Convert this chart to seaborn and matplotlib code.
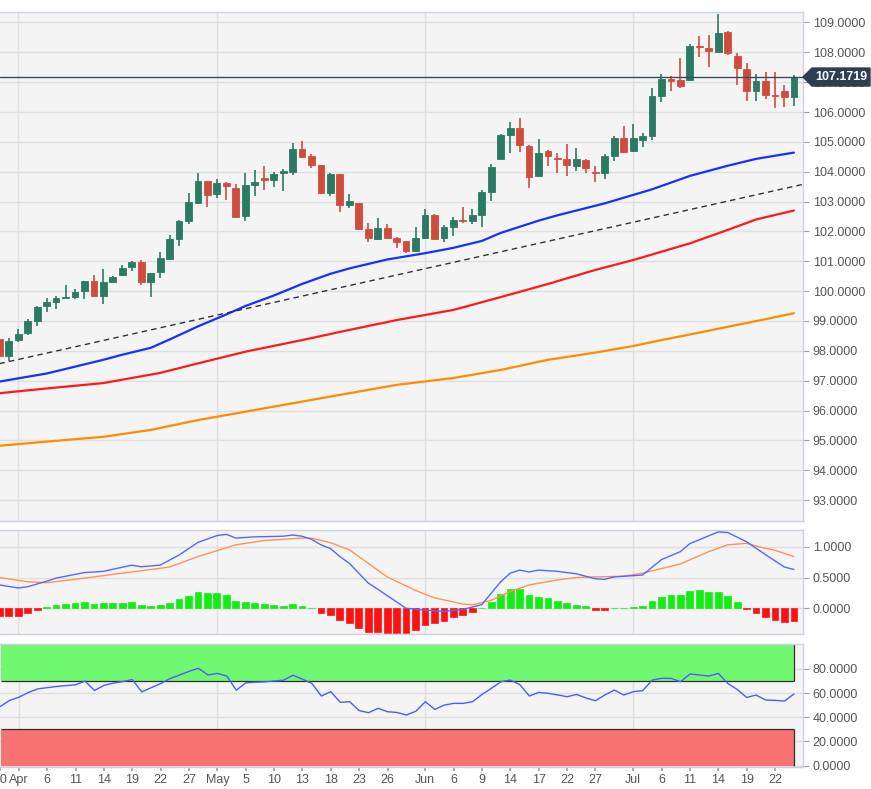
import numpy as np
import pandas as pd
import matplotlib
matplotlib.use("Agg")
import matplotlib.pyplot as plt
import seaborn as sns
from matplotlib.patches import Polygon
import matplotlib.transforms as mtransforms

sns.set_theme(style="white")
plt.rcParams['font.family'] = ['Liberation Sans', 'DejaVu Sans']

# ---------------- data ----------------
opens = [98.40, 97.82, 98.36, 98.60, 99.00, 99.49, 99.65, 99.77, 99.82, 100.00,
         100.33, 99.85, 100.31, 100.53, 100.80, 100.98, 100.32, 100.63, 101.08, 101.76,
         102.36, 102.96, 103.68, 103.25, 103.61, 103.47, 102.53, 103.56, 103.78, 103.72,
         103.97, 104.00, 104.75, 104.54, 104.22, 103.30, 103.91, 102.89, 102.95, 102.08,
         101.74, 102.13, 101.79, 101.69, 101.35, 101.77, 102.56, 101.77, 102.14, 102.38,
         102.36, 102.55, 103.33, 104.44, 105.23, 105.48, 104.86, 103.84, 104.68, 104.47,
         104.43, 104.20, 104.39, 104.00, 103.97, 104.54, 105.12, 104.71, 105.06, 105.20,
         106.52, 107.10, 107.07, 107.07, 108.21, 108.16, 108.02, 108.68, 107.86, 107.43,
         106.72, 107.05, 106.56, 106.72, 106.49]
highs = [98.48, 98.42, 98.73, 99.07, 99.51, 99.78, 99.84, 100.19, 100.07, 100.35,
         100.54, 100.73, 100.51, 100.89, 101.02, 101.05, 100.62, 101.30, 101.87, 102.38,
         103.28, 103.96, 103.70, 103.77, 103.67, 103.58, 103.96, 104.06, 104.18, 104.00,
         104.08, 104.95, 105.03, 104.59, 104.24, 103.95, 103.92, 103.24, 102.95, 102.29,
         102.44, 102.24, 101.82, 101.69, 102.16, 102.74, 102.58, 102.22, 102.47, 102.83,
         102.76, 103.39, 104.26, 105.26, 105.66, 105.79, 104.90, 105.09, 104.73, 104.64,
         104.93, 104.78, 104.42, 104.20, 104.60, 105.18, 105.53, 105.60, 105.31, 106.80,
         107.27, 107.22, 107.80, 108.28, 108.56, 108.58, 109.29, 108.70, 107.97, 107.63,
         107.28, 107.35, 107.35, 106.91, 107.24]
lows = [97.70, 97.66, 98.31, 98.53, 98.84, 99.31, 99.41, 99.76, 99.74, 99.74,
        99.80, 99.57, 100.30, 100.51, 100.67, 100.20, 99.81, 100.45, 101.05, 101.51,
        102.25, 102.93, 102.83, 103.11, 103.05, 102.47, 102.34, 103.19, 103.39, 103.50,
        103.37, 103.89, 104.45, 104.12, 103.25, 103.19, 102.64, 102.77, 102.05, 101.66,
        101.71, 101.74, 101.44, 101.29, 101.32, 101.75, 101.71, 101.64, 101.86, 102.27,
        102.25, 102.14, 103.03, 104.42, 104.64, 104.66, 103.45, 103.84, 104.19, 103.95,
        103.86, 104.04, 103.95, 103.67, 103.76, 104.37, 104.62, 104.67, 104.82, 105.06,
        106.35, 106.72, 106.80, 107.05, 107.83, 107.50, 108.02, 107.91, 106.91, 106.38,
        106.38, 106.43, 106.13, 106.18, 106.20]
closes = [97.84, 98.33, 98.57, 98.99, 99.48, 99.65, 99.76, 99.82, 99.97, 100.33,
          99.84, 100.31, 100.47, 100.79, 100.98, 100.30, 100.62, 101.12, 101.75, 102.34,
          102.98, 103.68, 103.23, 103.62, 103.51, 102.49, 103.56, 103.65, 103.73, 103.92,
          104.01, 104.75, 104.48, 104.23, 103.30, 103.92, 102.89, 103.02, 102.08, 101.77,
          102.13, 101.77, 101.64, 101.36, 101.77, 102.54, 101.75, 102.16, 102.38, 102.36,
          102.55, 103.31, 104.17, 105.24, 105.48, 104.90, 103.83, 104.64, 104.51, 104.43,
          104.23, 104.42, 104.12, 103.97, 104.51, 105.12, 104.67, 105.12, 105.18, 106.52,
          107.10, 107.05, 106.88, 108.22, 108.17, 108.06, 108.66, 107.97, 107.46, 106.72,
          107.05, 106.57, 106.54, 106.49, 107.1719]

# moving averages, read at these bar indices
sma50_idx = [0, 5, 8, 11, 13, 16, 18, 21, 24, 26, 29, 32, 35, 37, 41, 45, 48, 51, 53,
             57, 59, 64, 69, 73, 77, 80, 84]
sma50 = [96.97, 97.24, 97.47, 97.70, 97.87, 98.10, 98.38, 98.82, 99.22, 99.50, 99.85,
         100.24, 100.58, 100.76, 101.06, 101.27, 101.45, 101.68, 101.95, 102.36, 102.54,
         102.94, 103.41, 103.86, 104.20, 104.43, 104.64]
sma100_idx = [0, 5, 11, 17, 21, 26, 32, 37, 42, 48, 53, 58, 63, 67, 73, 77, 80, 84]
sma100 = [96.58, 96.74, 96.92, 97.26, 97.58, 97.97, 98.36, 98.70, 99.03, 99.37, 99.80,
          100.24, 100.71, 101.04, 101.60, 102.05, 102.40, 102.70]
sma200_idx = [0, 5, 11, 16, 21, 26, 32, 37, 42, 48, 53, 58, 63, 67, 70, 74, 78, 81, 84]
sma200 = [94.82, 94.96, 95.12, 95.35, 95.68, 95.96, 96.30, 96.58, 96.86, 97.09, 97.36,
          97.70, 97.94, 98.16, 98.36, 98.61, 98.87, 99.06, 99.26]

trend_idx = [0, 85]
trend_val = [97.57, 103.58]

# MACD
macd_idx = [0, 2, 3, 5, 6, 9, 11, 14, 15, 17, 19, 21, 23, 24, 25, 27, 30, 31, 32, 33,
            34, 35, 36, 37, 39, 40, 43, 45, 47, 49, 51, 53, 54, 55, 56, 57, 59, 61, 63, 64,
            65, 68, 70, 72, 73, 76, 77, 79, 81, 83, 84]
macd_line = [0.38, 0.33, 0.35, 0.44, 0.49, 0.58, 0.60, 0.70, 0.675, 0.70, 0.865, 1.07, 1.18,
             1.20, 1.14, 1.16, 1.17, 1.19, 1.17, 1.12, 1.03, 0.97, 0.84, 0.73, 0.41, 0.31,
             0.0, -0.03, -0.05, -0.02, 0.06, 0.43, 0.57, 0.62, 0.59, 0.62, 0.60, 0.56, 0.48,
             0.47, 0.51, 0.54, 0.79, 0.92, 1.05, 1.24, 1.23, 1.08, 0.87, 0.67, 0.63]
sig_idx = [0, 3, 5, 9, 14, 18, 21, 25, 28, 32, 33, 35, 37, 39, 41, 44, 46, 49, 50, 52,
           54, 56, 59, 61, 63, 66, 68, 72, 75, 77, 79, 80, 82, 84]
sig_line = [0.50, 0.43, 0.415, 0.49, 0.59, 0.67, 0.84, 1.03, 1.10, 1.14, 1.14, 1.065, 0.95,
            0.73, 0.51, 0.29, 0.17, 0.07, 0.055, 0.13, 0.27, 0.38, 0.46, 0.50, 0.51, 0.52,
            0.57, 0.72, 0.92, 1.03, 1.055, 1.01, 0.94, 0.84]
macd_hist = [-0.124, -0.124, -0.124, -0.081, -0.027, 0.016, 0.054, 0.070, 0.081, 0.103,
             0.070, 0.081, 0.081, 0.092, 0.108, 0.054, 0.038, 0.054, 0.092, 0.146,
             0.200, 0.265, 0.254, 0.254, 0.222, 0.119, 0.103, 0.092, 0.065, 0.054,
             0.038, 0.065, 0.043, 0.011, -0.081, -0.108, -0.189, -0.243, -0.325, -0.379,
             -0.390, -0.395, -0.406, -0.406, -0.352, -0.271, -0.243, -0.200, -0.146, -0.108,
             -0.065, 0.011, 0.108, 0.233, 0.314, 0.308, 0.216, 0.189, 0.162, 0.124,
             0.085, 0.060, 0.040, -0.025, -0.025, 0.011, 0.011, 0.022, 0.032, 0.114,
             0.189, 0.222, 0.216, 0.281, 0.292, 0.265, 0.265, 0.200, 0.108, -0.005,
             -0.070, -0.146, -0.189, -0.227, -0.200]

# RSI
rsi = [48.8, 53.9, 56.6, 60.5, 63.5, 64.5, 65.5, 66.2, 66.9, 69.9,
       62.2, 66.4, 68.3, 69.5, 71.2, 61.0, 64.5, 67.9, 72.0, 75.0,
       78.0, 80.5, 75.0, 76.3, 74.1, 62.4, 68.5, 69.0, 69.3, 70.0,
       70.7, 74.8, 71.5, 68.0, 57.6, 61.2, 52.4, 52.9, 45.5, 43.8,
       47.4, 44.6, 44.0, 41.9, 45.0, 52.9, 46.5, 50.1, 51.5, 51.5,
       52.9, 58.9, 64.0, 69.4, 70.8, 67.0, 57.6, 60.6, 59.8, 58.5,
       57.0, 58.9, 56.0, 53.7, 58.5, 62.5, 58.4, 61.2, 62.0, 70.8,
       72.2, 72.2, 69.4, 75.8, 75.0, 74.1, 76.3, 68.0, 63.0, 56.4,
       58.4, 54.3, 54.0, 53.4, 59.3]
rsi_upper, rsi_lower = 70, 30

# x axis labels
tick_idx = [0, 2, 5, 8, 11, 14, 17, 20, 23, 26, 29, 32, 35, 38, 41, 45, 48, 51, 54,
            57, 60, 63, 67, 70, 73, 76, 79, 82]
tick_lbl = ["30", "Apr", "6", "11", "14", "19", "22", "27", "May", "5", "10", "13", "18",
            "23", "26", "Jun", "6", "9", "14", "17", "22", "27", "Jul", "6", "11", "14",
            "19", "22"]
month_idx = [2, 23, 45, 67]

# ---------------- figure ----------------
W, H = 871, 789
fig = plt.figure(figsize=(W / 100, H / 100), dpi=100)
fig.patch.set_facecolor("white")


def rect(l, t, r, b):
    return [l / W, 1 - b / H, (r - l) / W, (b - t) / H]


ax1 = fig.add_axes(rect(0, 12, 803, 521))
ax2 = fig.add_axes(rect(0, 530, 803, 634))
ax3 = fig.add_axes(rect(0, 644, 803, 767))

BG = "#f4f4f4"
GRID = "#dfdfdf"
SPINE = "#cbd0e2"
LBL = "#555555"
XLIM = (0.07, 84.96)
FS = 9

for ax in (ax1, ax2, ax3):
    ax.set_facecolor(BG)
    for s in ax.spines.values():
        s.set_color(SPINE)
        s.set_linewidth(1.0)
    ax.spines["left"].set_visible(False)
    ax.yaxis.tick_right()
    ax.tick_params(axis="y", which="both", length=4, width=0.8, color="#9aa0b0",
                   labelcolor=LBL, labelsize=FS, pad=3, left=False, right=True)
    ax.set_xlim(*XLIM)
    for m in month_idx:
        ax.axvline(m, color=GRID, lw=1.0, zorder=0)
    ax.set_xticks([])

# ---- main candle panel ----
ax1.set_ylim(92.30, 109.35)
yt = list(range(93, 110))
ax1.set_yticks(yt)
ax1.set_yticklabels([f"{v:.4f}" for v in yt])
for v in yt:
    ax1.axhline(v, color=GRID, lw=1.0, zorder=0)

idx = np.arange(len(closes))
o = np.array(opens); c = np.array(closes); h = np.array(highs); l = np.array(lows)
up = c >= o
UPC, DNC = "#2b7a64", "#d04c3d"
cols = np.where(up, UPC, DNC)
ax1.vlines(idx, l, h, colors=cols, lw=1.2, zorder=3)
body_b = np.minimum(o, c)
body_h = np.maximum(np.abs(c - o), 0.03)
ax1.bar(idx, body_h, bottom=body_b, width=0.72, color=cols, edgecolor=cols,
        linewidth=0.6, zorder=4)

sns.lineplot(x=sma200_idx, y=sma200, ax=ax1, color="#ff8c00", lw=1.6, zorder=2)
sns.lineplot(x=sma100_idx, y=sma100, ax=ax1, color="#ff1a1a", lw=1.6, zorder=2)
sns.lineplot(x=sma50_idx, y=sma50, ax=ax1, color="#1432ff", lw=1.6, zorder=2)
sns.lineplot(x=trend_idx, y=trend_val, ax=ax1, color="#333333", lw=1.0,
             linestyle=(0, (4, 3)), zorder=2)

last = closes[-1]
ax1.axhline(last, color="#3b4a5e", lw=1.0, zorder=5)
trans = mtransforms.blended_transform_factory(ax1.transAxes, ax1.transData)
hh = 9.0 / 29.85
x0, x1, x2 = 1.0, 1.0 + 9 / 803, 1.0 + 67 / 803
poly = Polygon([[x0, last], [x1, last + hh], [x2, last + hh], [x2, last - hh],
                [x1, last - hh]], closed=True, transform=trans, facecolor="#2d3d52",
               edgecolor="#2d3d52", clip_on=False, zorder=10)
ax1.add_patch(poly)
ax1.text((x1 + x2) / 2 + 0.001, last, f"{last:.4f}", transform=trans, color="white",
         fontsize=FS, fontweight="bold", ha="center", va="center", clip_on=False, zorder=11)
ax1.set_xlabel(""); ax1.set_ylabel("")

# ---- MACD panel ----
ax2.set_ylim(-0.417, 1.271)
mt = [0.0, 0.5, 1.0]
ax2.set_yticks(mt)
ax2.set_yticklabels([f"{v:.4f}" for v in mt])
for v in mt:
    ax2.axhline(v, color=GRID, lw=1.0, zorder=0)
hist = np.array(macd_hist)
hcols = np.where(hist >= 0, "#11ee11", "#ff1111")
ax2.bar(idx, hist, width=0.72, color=hcols, edgecolor=hcols, linewidth=0.5, zorder=2)
sns.lineplot(x=sig_idx, y=sig_line, ax=ax2, color="#ff9350", lw=1.0, zorder=3)
sns.lineplot(x=macd_idx, y=macd_line, ax=ax2, color="#5468ff", lw=1.0, zorder=4)
ax2.set_xlabel(""); ax2.set_ylabel("")

# ---- RSI panel ----
ax3.set_ylim(-1.1, 100.6)
rt = [0, 20, 40, 60, 80]
ax3.set_yticks(rt)
ax3.set_yticklabels([f"{v:.4f}" for v in rt])
for v in rt:
    ax3.axhline(v, color=GRID, lw=1.0, zorder=0)
band_x = [XLIM[0], idx[-1]]
ax3.fill_between(band_x, rsi_upper, 101, color="#70f870", zorder=1, linewidth=0)
ax3.fill_between(band_x, 0, rsi_lower, color="#f87272", zorder=1, linewidth=0)
ax3.hlines([rsi_upper, rsi_lower], XLIM[0], idx[-1], colors="#303030", lw=0.9, zorder=2)
ax3.vlines(idx[-1], rsi_upper, 101, colors="#303030", lw=0.9, zorder=2)
ax3.vlines(idx[-1], 0, rsi_lower, colors="#303030", lw=0.9, zorder=2)
sns.lineplot(x=idx, y=rsi, ax=ax3, color="#4a5cff", lw=1.0, zorder=4)
ax3.set_xticks(tick_idx)
ax3.set_xticklabels(tick_lbl)
ax3.tick_params(axis="x", length=3, color="#9aa0b0", labelcolor=LBL, labelsize=FS,
                pad=2, bottom=True)
ax3.set_xlabel(""); ax3.set_ylabel("")

fig.savefig("out.png", dpi=100, facecolor="white")
